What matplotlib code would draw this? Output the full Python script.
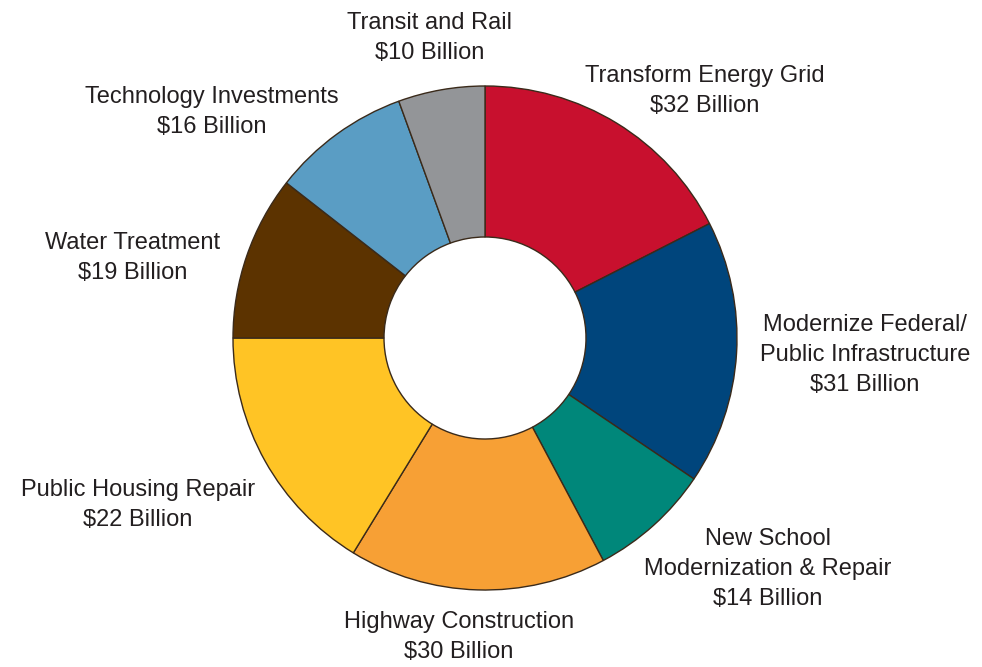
import matplotlib.pyplot as plt
from matplotlib import font_manager

# Data
categories = ['Transform Energy Grid', 'Modernize Federal/\nPublic Infrastructure',
              'New School\nModernization & Repair', 'Highway Construction',
              'Public Housing Repair', 'Water Treatment',
              'Technology Investments', 'Transit and Rail']
values = [32, 31, 14, 30, 22, 19, 16, 10]
# slice sizes as drawn in the original (degrees)
slice_deg = [63, 61, 28, 59.5, 58.5, 38, 32, 20]
colors = ['#C8102E', '#00457C', '#00877A', '#F7A035',
          '#FFC425', '#5C3300', '#5A9DC4', '#939598']

# label centres in pixel coords (layout only)
label_xy = [(705, 91), (865, 355), (768, 569), (459, 637),
            (138, 505), (133, 258), (212, 112), (430, 38)]

names = [f.name for f in font_manager.fontManager.ttflist]
family = 'Liberation Sans Narrow' if 'Liberation Sans Narrow' in names else 'Liberation Sans'
plt.rcParams['font.family'] = [family, 'DejaVu Sans']

W, H = 982, 667
fig = plt.figure(figsize=(W / 100, H / 100), dpi=100)
ax = fig.add_axes([0, 0, 1, 1])

ax.pie(slice_deg, colors=colors, startangle=90, counterclock=False,
       center=(485, H - 338), radius=252, frame=True,
       wedgeprops=dict(width=151, edgecolor='#3a2a1a', linewidth=1.0))
ax.set_xlim(0, W)
ax.set_ylim(0, H)
ax.set_aspect('auto')
ax.axis('off')

for cat, v, (x, y) in zip(categories, values, label_xy):
    ax.text(x, H - y, f'{cat}\n${v} Billion', ha='center', va='center',
            fontsize=17, color='#231F20', linespacing=1.45)

fig.savefig('out.png', dpi=100)
